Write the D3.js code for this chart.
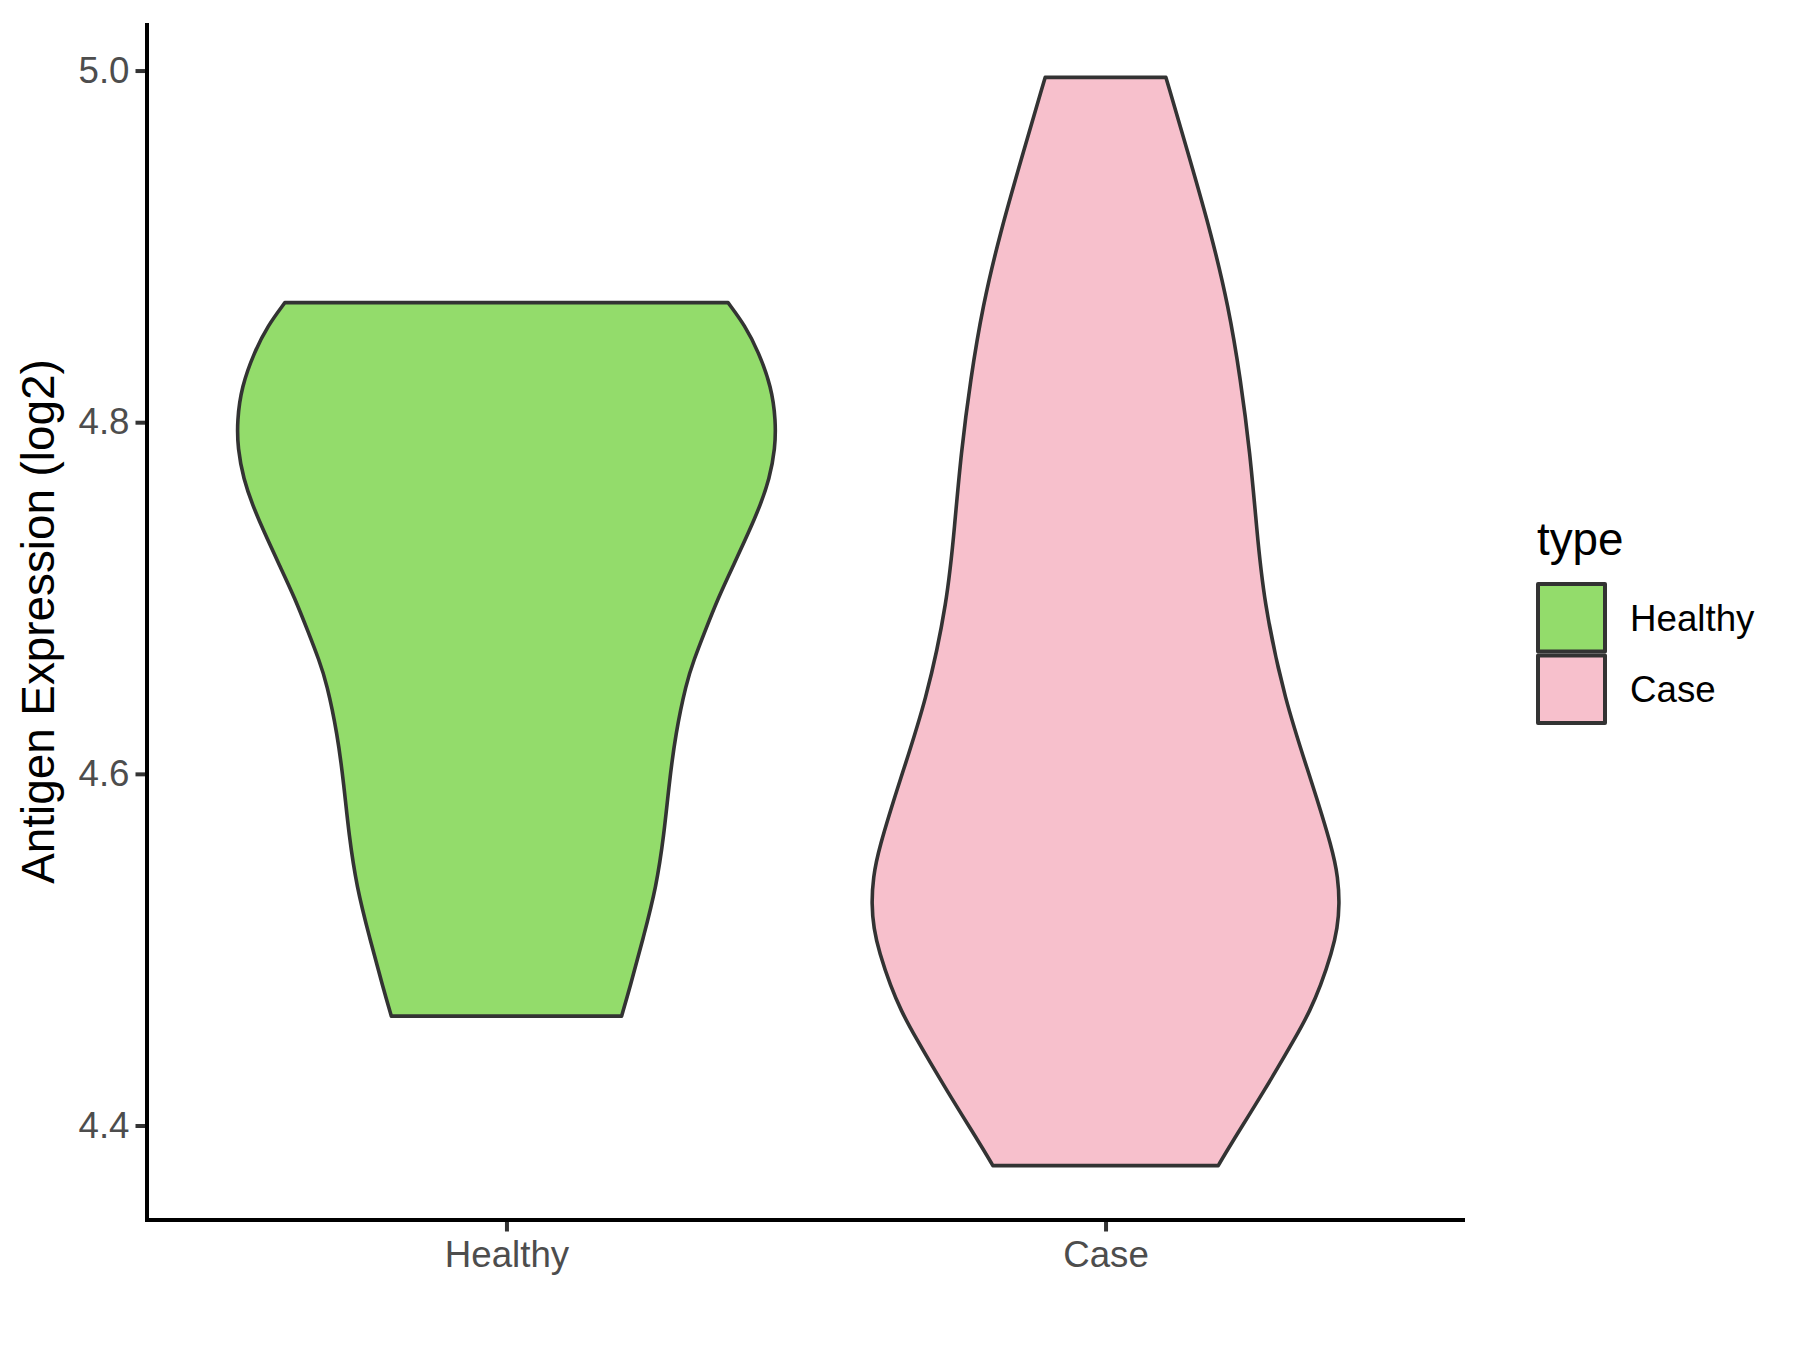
<!DOCTYPE html>
<html>
<head>
<meta charset="utf-8">
<script src="https://cdn.jsdelivr.net/npm/d3@7"></script>
<style>
  html, body { margin: 0; padding: 0; background: #ffffff; }
  svg { display: block; font-family: "Liberation Sans", Arial, sans-serif; }
</style>
</head>
<body>
<svg id="chart" width="1800" height="1350"></svg>
<script>
// ---- data ----
const categories = ["Healthy", "Case"];
const fillColors = ["#93DC6B", "#F7C0CC"];

// density profile: expression value (log2) and relative half-width (1 = widest)
const healthyValues = [4.868, 4.855, 4.840, 4.820, 4.801, 4.785, 4.7675, 4.753, 4.7385, 4.718, 4.700, 4.6806, 4.6647, 4.6517, 4.6227, 4.5938, 4.5649, 4.5359, 4.5070, 4.4780, 4.4622];
const healthyWidths = [0.822, 0.885, 0.935, 0.983, 0.999, 0.997, 0.975, 0.942, 0.902, 0.840, 0.785, 0.735, 0.695, 0.667, 0.627, 0.603, 0.584, 0.556, 0.508, 0.457, 0.427];

const caseValues = [4.9961, 4.9494, 4.9076, 4.8660, 4.8242, 4.7825, 4.7409, 4.6987, 4.6419, 4.5964, 4.5566, 4.541, 4.5261, 4.512, 4.4987, 4.479, 4.465, 4.453, 4.420, 4.3877, 4.3772];
const caseWidths = [0.224, 0.313, 0.391, 0.456, 0.501, 0.536, 0.560, 0.586, 0.664, 0.763, 0.843, 0.862, 0.868, 0.860, 0.840, 0.797, 0.757, 0.716, 0.590, 0.458, 0.418];

const yTickValues = [4.4, 4.6, 4.8, 5.0];
const yTitle = "Antigen Expression (log2)";
const legendTitle = "type";

// ---- layout ----
const panel = { left: 147, right: 1465, top: 23, bottom: 1220 };
const svg = d3.select("#chart");

const series = [
  { cat: categories[0], values: healthyValues, widths: healthyWidths, fill: fillColors[0] },
  { cat: categories[1], values: caseValues, widths: caseWidths, fill: fillColors[1] }
];

const allVals = healthyValues.concat(caseValues);
const vmin = d3.min(allVals), vmax = d3.max(allVals);
const pad = (vmax - vmin) * 0.05;

const y = d3.scaleLinear().domain([vmin - pad, vmax + pad]).range([panel.bottom, panel.top]);
const x = d3.scalePoint().domain(categories).range([panel.left, panel.right]).padding(0.6);
const halfMax = x.step() * 0.45;

// ---- violins ----
const area = d3.area()
  .y(d => y(d.v))
  .x0(d => d.cx - d.w * halfMax)
  .x1(d => d.cx + d.w * halfMax)
  .curve(d3.curveBasis);

series.forEach(s => {
  const cx = x(s.cat);
  const pts = s.values.map((v, i) => ({ v: v, w: s.widths[i], cx: cx }));
  svg.append("path")
    .attr("d", area(pts))
    .attr("fill", s.fill)
    .attr("stroke", "#333333")
    .attr("stroke-width", 3.6)
    .attr("stroke-linejoin", "round");
});

// ---- axes ----
const tickColor = "#333333";
const labelColor = "#4D4D4D";

const yAxis = d3.axisLeft(y).tickValues(yTickValues).tickFormat(d3.format(".1f")).tickSize(11.5).tickPadding(6);
const gy = svg.append("g").attr("transform", `translate(${panel.left},0)`).call(yAxis);
gy.select(".domain").remove();
gy.selectAll(".tick line").attr("stroke", tickColor).attr("stroke-width", 4);
gy.selectAll(".tick text").attr("fill", labelColor).attr("font-size", 36.7)
  .attr("font-family", "Liberation Sans, Arial, sans-serif");

const xAxis = d3.axisBottom(x).tickSize(11.5).tickPadding(9);
const gx = svg.append("g").attr("transform", `translate(0,${panel.bottom})`).call(xAxis);
gx.select(".domain").remove();
gx.selectAll(".tick line").attr("stroke", tickColor).attr("stroke-width", 4);
gx.selectAll(".tick text").attr("fill", labelColor).attr("font-size", 36.7)
  .attr("font-family", "Liberation Sans, Arial, sans-serif");

// axis lines
svg.append("line").attr("x1", panel.left).attr("x2", panel.left)
  .attr("y1", panel.top).attr("y2", panel.bottom + 2)
  .attr("stroke", "#000").attr("stroke-width", 4);
svg.append("line").attr("x1", panel.left - 2).attr("x2", panel.right)
  .attr("y1", panel.bottom).attr("y2", panel.bottom)
  .attr("stroke", "#000").attr("stroke-width", 4);

// y title
svg.append("text")
  .attr("transform", `translate(54,${(panel.top + panel.bottom) / 2}) rotate(-90)`)
  .attr("text-anchor", "middle")
  .attr("font-size", 45.8)
  .attr("fill", "#000")
  .text(yTitle);

// ---- legend ----
const lg = svg.append("g").attr("transform", "translate(1537,0)");
lg.append("text").attr("x", 0).attr("y", 555).attr("font-size", 45.8).attr("fill", "#000").text(legendTitle);
const keyY0 = 583, keyH = 71.5, keyW = 69;
series.forEach((s, i) => {
  const ky = keyY0 + i * keyH;
  lg.append("rect")
    .attr("x", 1).attr("y", ky + 1)
    .attr("width", keyW - 2).attr("height", keyH - 4)
    .attr("fill", s.fill).attr("stroke", "#333333").attr("stroke-width", 4)
    .attr("stroke-linejoin", "round");
  lg.append("text")
    .attr("x", 93).attr("y", ky + keyH / 2 - 1)
    .attr("dy", "0.35em")
    .attr("font-size", 36.7).attr("fill", "#000")
    .text(s.cat);
});
</script>
</body>
</html>
